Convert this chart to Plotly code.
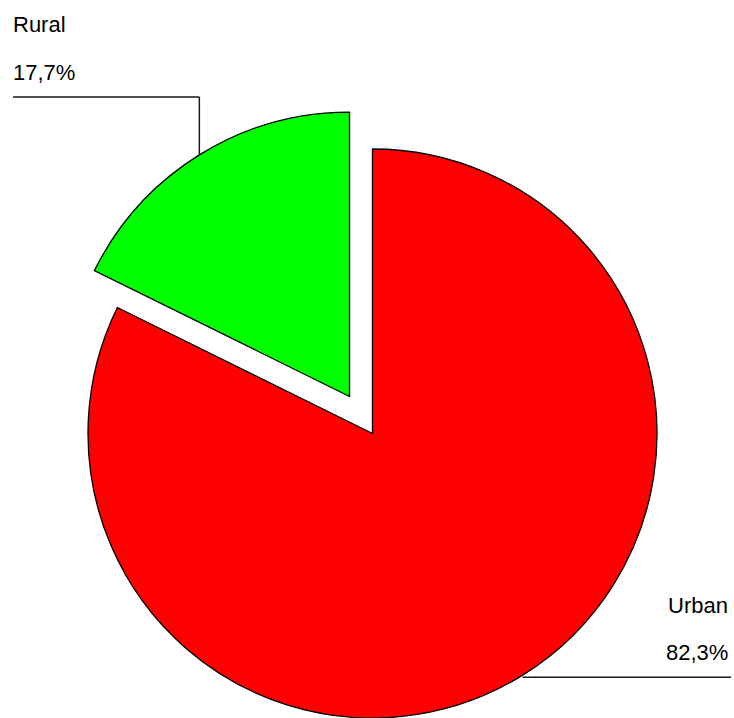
import math
import plotly.graph_objects as go

# ---- data ----
categories = ["Rural", "Urban"]
shares = [17.7, 82.3]
colors = ["#00FF00", "#FF0000"]
pulled = [True, False]

# ---- layout constants (pixels) ----
W, H = 734, 718
CX, CY, R = 372.5, 433.5, 284.5
PULL = 0.153
FONT = dict(family="Liberation Sans, Arial, sans-serif", size=22, color="#000000")
LINE_W = 1.5


def px(x):
    return x / W


def py(y):
    return 1 - y / H


total = sum(shares)
fracs = [s / total for s in shares]
# mid angle of each slice, counter-clockwise from 12 o'clock (degrees)
mids = []
acc = 0.0
for f in fracs:
    mids.append((acc + f / 2) * 360)
    acc += f


def unit(angle_deg):
    a = math.radians(angle_deg)
    return -math.sin(a), -math.cos(a)  # screen coords (y down)


# slices laid out counter-clockwise from 12 o'clock: first slice ends at 12 o'clock
PIE_DIR = "clockwise"
ROT = -fracs[0] * 360

fig = go.Figure()

# base pie (non-pulled slices visible)
fig.add_trace(go.Pie(
    labels=categories, values=shares, sort=False, direction=PIE_DIR,
    rotation=ROT, textinfo="none", hoverinfo="label+percent", showlegend=False,
    marker=dict(
        colors=[("rgba(0,0,0,0)" if p else c) for c, p in zip(colors, pulled)],
        line=dict(color="#000000", width=[(0 if p else 1.3) for p in pulled]),
    ),
    domain=dict(x=[px(CX - R), px(CX + R)], y=[py(CY + R), py(CY - R)]),
))

shapes = []
annotations = []
for i, (cat, val, p) in enumerate(zip(categories, shares, pulled)):
    ux, uy = unit(mids[i])
    cx, cy = CX, CY
    if p:
        cx, cy = CX + ux * PULL * R, CY + uy * PULL * R
        fig.add_trace(go.Pie(
            labels=categories, values=shares, sort=False, direction=PIE_DIR,
            rotation=ROT, textinfo="none", hoverinfo="label+percent", showlegend=False,
            marker=dict(
                colors=[(c if j == i else "rgba(0,0,0,0)") for j, c in enumerate(colors)],
                line=dict(color="#000000", width=[(1.3 if j == i else 0) for j in range(len(colors))]),
            ),
            domain=dict(x=[px(cx - R), px(cx + R)], y=[py(cy + R), py(cy - R)]),
        ))
    ax, ay = cx + ux * R, cy + uy * R
    pct = f"{val:.1f}".replace(".", ",") + "%"
    if ux < 0:  # label on upper-left
        ly = 97
        shapes.append(dict(type="line", xref="paper", yref="paper",
                           x0=px(ax), y0=py(ay), x1=px(ax), y1=py(ly),
                           line=dict(color="#1a1a1a", width=LINE_W)))
        shapes.append(dict(type="line", xref="paper", yref="paper",
                           x0=px(ax), y0=py(ly), x1=px(13), y1=py(ly),
                           line=dict(color="#1a1a1a", width=LINE_W)))
        annotations.append(dict(x=px(11), y=py(24), xref="paper", yref="paper",
                                text=cat, showarrow=False, xanchor="left", yanchor="middle", font=FONT))
        annotations.append(dict(x=px(11), y=py(72), xref="paper", yref="paper",
                                text=pct, showarrow=False, xanchor="left", yanchor="middle", font=FONT))
    else:  # label on lower-right
        ly = ay + 2
        shapes.append(dict(type="line", xref="paper", yref="paper",
                           x0=px(ax), y0=py(ly), x1=px(731), y1=py(ly),
                           line=dict(color="#1a1a1a", width=LINE_W)))
        annotations.append(dict(x=px(730), y=py(605), xref="paper", yref="paper",
                                text=cat, showarrow=False, xanchor="right", yanchor="middle", font=FONT))
        annotations.append(dict(x=px(730), y=py(652), xref="paper", yref="paper",
                                text=pct, showarrow=False, xanchor="right", yanchor="middle", font=FONT))

fig.update_layout(
    width=W, height=H, margin=dict(l=0, r=0, t=0, b=0),
    paper_bgcolor="#FFFFFF", plot_bgcolor="#FFFFFF",
    shapes=shapes, annotations=annotations, showlegend=False,
)

fig.write_html(
    "out.html",
    config={"displayModeBar": False},
    post_script="document.body.style.margin='0';document.body.style.overflow='hidden';",
)
